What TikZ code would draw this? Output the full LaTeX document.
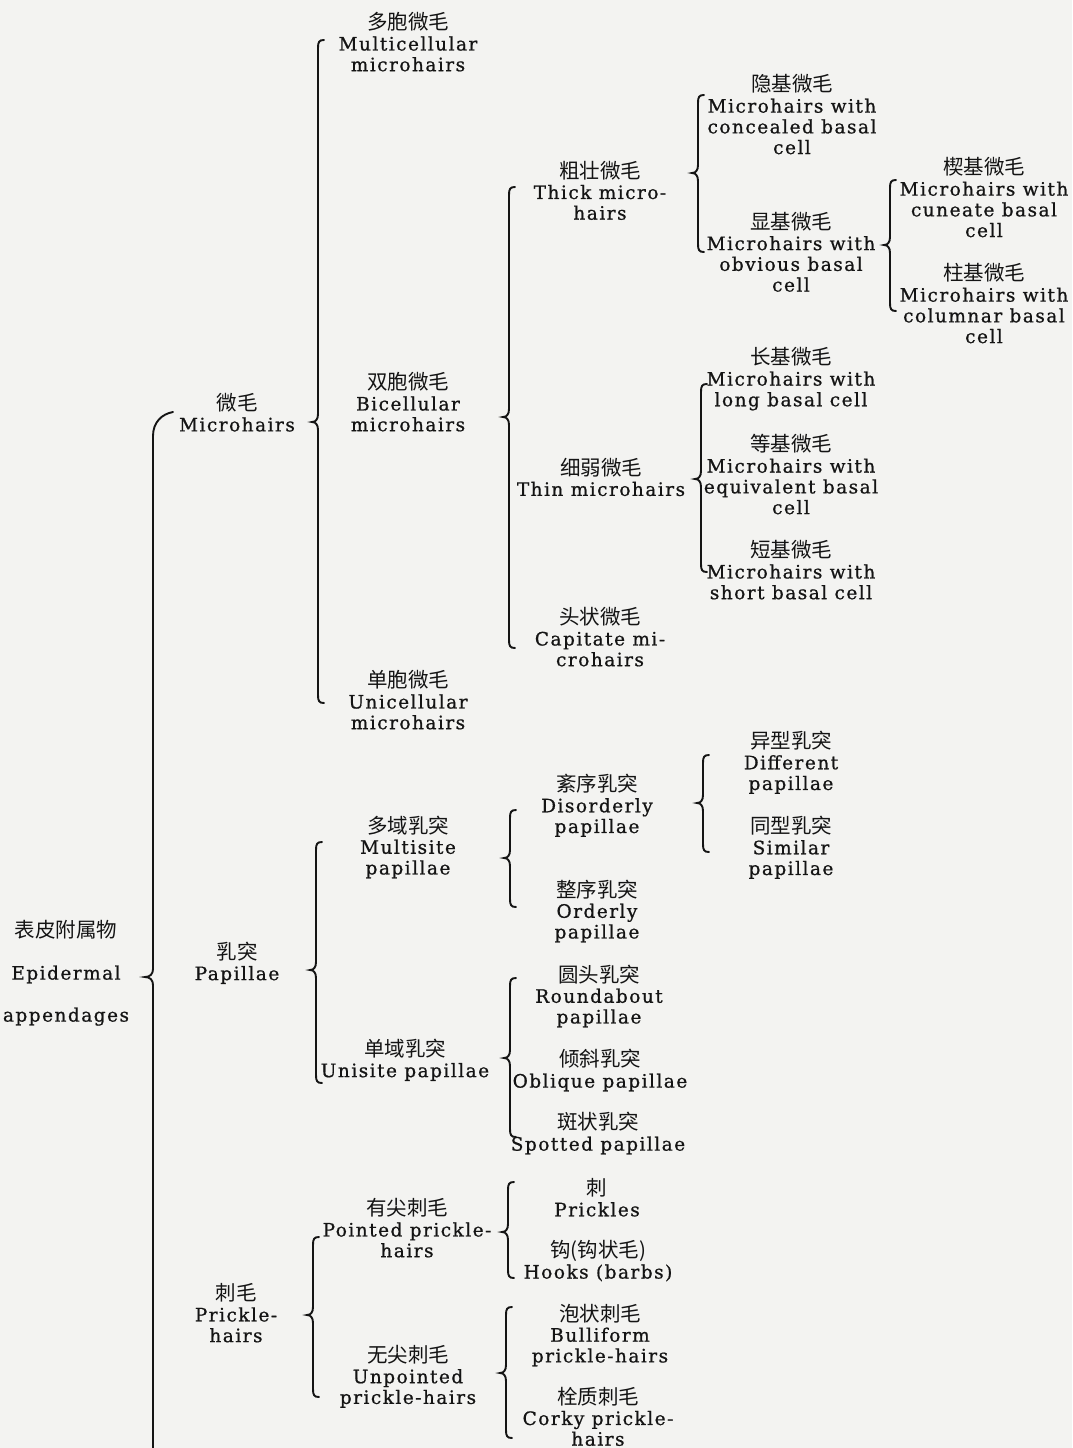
\documentclass[tikz,border=0pt]{standalone}
\usepackage{fontspec}
\setmainfont{DejaVu Serif}[LetterSpace=8,FakeBold=0.8]
\newfontfamily\cjk{Noto Sans CJK SC}
\definecolor{ink}{HTML}{141414}
\definecolor{paper}{HTML}{F3F3F1}
\newcommand{\zh}[1]{{\fontsize{20.5}{20.7}\selectfont\cjk #1}}
\newcommand{\brc}[4]{% x, top, tip, bottom
  \draw[bracestyle] ({#1+6},#2) .. controls ({#1+1},#2) and (#1,{#2+2}) .. (#1,{#2+8})
    -- (#1,{#3-8}) .. controls (#1,{#3-3}) and ({#1-2},#3) .. ({#1-6},#3)
    .. controls ({#1-2},#3) and (#1,{#3+3}) .. (#1,{#3+8})
    -- (#1,{#4-8}) .. controls (#1,{#4-2}) and ({#1+1},#4) .. ({#1+6},#4);}
\begin{document}
\begin{tikzpicture}[x=1pt,y=-1pt,
  lbl/.style={align=center,inner sep=0pt,font=\fontsize{18.5}{20.7}\selectfont,text=ink},
  rootlbl/.style={align=center,inner sep=0pt,font=\fontsize{18.5}{42}\selectfont,text=ink},
  bracestyle/.style={line width=1.9pt,draw=ink,line cap=round}]
\fill[paper] (0,0) rectangle (1072,1448);
\useasboundingbox (0,0) rectangle (1072,1448);
\clip (0,0) rectangle (1072,1448);

% level 0
\node[rootlbl] (root) at (66,973) {\zh{表皮附属物}\\Epidermal\\appendages};
% level 1
\node[lbl] (mh) at (237,412.5) {\zh{微毛}\\Microhairs};
\node[lbl] (pap) at (237,963) {\zh{乳突}\\Papillae};
\node[lbl] (prh) at (236,1313) {\zh{刺毛}\\Prickle-\\hairs};
% level 2
\node[lbl] (multi) at (408,42) {\zh{多胞微毛}\\Multicellular\\microhairs};
\node[lbl] (bi) at (408,402) {\zh{双胞微毛}\\Bicellular\\microhairs};
\node[lbl] (uni) at (408,700) {\zh{单胞微毛}\\Unicellular\\microhairs};
\node[lbl] (msite) at (408,847) {\zh{多域乳突}\\Multisite\\papillae};
\node[lbl] (usite) at (405,1060) {\zh{单域乳突}\\Unisite papillae};
\node[lbl] (point) at (407,1228) {\zh{有尖刺毛}\\Pointed prickle-\\hairs};
\node[lbl] (unpoint) at (408,1376.5) {\zh{无尖刺毛}\\Unpointed\\prickle-hairs};
% level 3
\node[lbl] (thick) at (600,190.5) {\zh{粗壮微毛}\\Thick micro-\\hairs};
\node[lbl] (thin) at (601,477) {\zh{细弱微毛}\\Thin microhairs};
\node[lbl] (capit) at (600,637) {\zh{头状微毛}\\Capitate mi-\\crohairs};
\node[lbl] (disord) at (597,805.5) {\zh{紊序乳突}\\Disorderly\\papillae};
\node[lbl] (ord) at (597,911) {\zh{整序乳突}\\Orderly\\papillae};
\node[lbl] (round) at (599,996) {\zh{圆头乳突}\\Roundabout\\papillae};
\node[lbl] (obliq) at (600,1070.5) {\zh{倾斜乳突}\\Oblique papillae};
\node[lbl] (spot) at (598,1133.5) {\zh{斑状乳突}\\Spotted papillae};
\node[lbl] (prick) at (597,1197.5) {\zh{刺}\\Prickles};
\node[lbl] (hook) at (598,1261) {\zh{钩(钩状毛)}\\Hooks (barbs)};
\node[lbl] (bulli) at (600,1335) {\zh{泡状刺毛}\\Bulliform\\prickle-hairs};
\node[lbl] (corky) at (598,1416.5) {\zh{栓质刺毛}\\Corky prickle-\\hairs};
% level 4
\node[lbl] (conc) at (792,114.5) {\zh{隐基微毛}\\Microhairs with\\concealed basal\\cell};
\node[lbl] (obv) at (791,252) {\zh{显基微毛}\\Microhairs with\\obvious basal\\cell};
\node[lbl] (long) at (791,379) {\zh{长基微毛}\\Microhairs with\\long basal cell};
\node[lbl] (equiv) at (791,474.5) {\zh{等基微毛}\\Microhairs with\\equivalent basal\\cell};
\node[lbl] (short) at (791,570) {\zh{短基微毛}\\Microhairs with\\short basal cell};
\node[lbl] (diff) at (791,762.5) {\zh{异型乳突}\\Different\\papillae};
\node[lbl] (sim) at (791,847.5) {\zh{同型乳突}\\Similar\\papillae};
% level 5
\node[lbl] (cun) at (984,197.5) {\zh{楔基微毛}\\Microhairs with\\cuneate basal\\cell};
\node[lbl] (col) at (984,303.5) {\zh{柱基微毛}\\Microhairs with\\columnar basal\\cell};

% braces
\draw[bracestyle] (173,412) .. controls (162,414) and (153,422) .. (153,436)
  -- (153,969) .. controls (153,974) and (150,977) .. (145,977)
  .. controls (150,977) and (153,980) .. (153,985) -- (153,1560);
\brc{318}{40}{422}{703}
\brc{316}{842}{970}{1083}
\brc{313}{1237}{1315}{1397}
\brc{509}{187}{417}{648}
\brc{510}{810}{858}{907}
\brc{510}{978}{1058}{1137}
\brc{508}{1182}{1232}{1278}
\brc{506}{1307}{1373}{1438}
\brc{698}{95}{173}{252}
\brc{701}{384}{479}{572}
\brc{703}{755}{803}{852}
\brc{890}{180}{245}{311}
\end{tikzpicture}
\end{document}
